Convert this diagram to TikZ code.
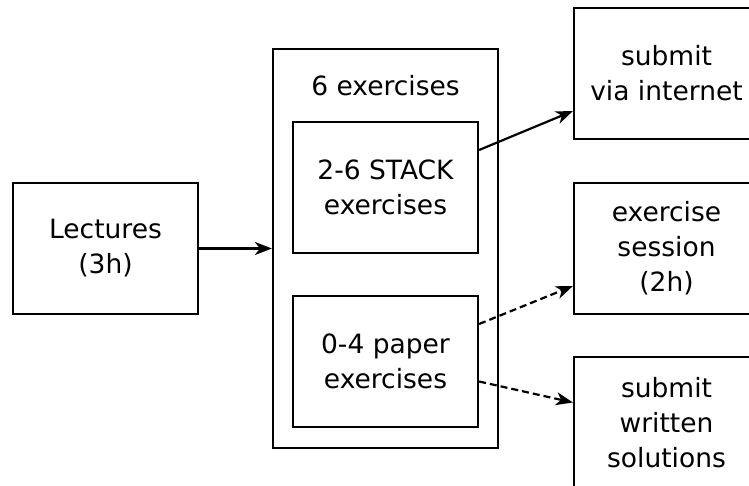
\documentclass[tikz,border=0pt]{standalone}
\usepackage{fontspec}
\setmainfont{DejaVu Sans}
\usetikzlibrary{arrows.meta}

\tikzset{
    box/.style={draw, minimum width=185pt, minimum height=131pt, inner sep=0pt,
        align=center, font=\fontsize{26.5}{35}\selectfont},
    flow/.style={-{Stealth[length=17pt, width=13pt, inset=5pt]}},
    optional/.style={flow, dash pattern=on 7pt off 4pt}
}

\begin{document}
\begin{tikzpicture}[x=1pt, y=-1pt, line width=2.2pt]
    \clip (0,0) rectangle (749,486);

    % Lectures
    \node[box] (lectures) at (105.5,248.5) {Lectures\\(3h)};

    % Weekly exercises
    \node[box, minimum width=225pt, minimum height=399pt] (exercises) at (385.5,248.5) {};
    \node[font=\fontsize{26.5}{35}\selectfont] (count) at (385.5,86) {6 exercises};
    \node[box] (stack) at (385.5,187.5) {2-6 STACK\\exercises};
    \node[box] (paper) at (385.5,361.5) {0-4 paper\\exercises};

    % Ways of handing in
    \node[box] (internet) at (666.5,73.5) {submit\\via internet};
    \node[box] (session) at (666.5,248.5) {exercise\\session\\(2h)};
    \node[box] (written) at (666.5,422.5) {submit\\written\\solutions};

    % Connections
    \draw[flow] (lectures.east) -- (exercises.west);
    \draw[flow] ([yshift=37.5pt]stack.east) -- ([yshift=-37.5pt]internet.west);
    \draw[optional] ([yshift=37.5pt]paper.east) -- ([yshift=-37.5pt]session.west);
    \draw[optional] ([yshift=-20pt]paper.east) -- ([yshift=20pt]written.west);

\end{tikzpicture}
\end{document}
